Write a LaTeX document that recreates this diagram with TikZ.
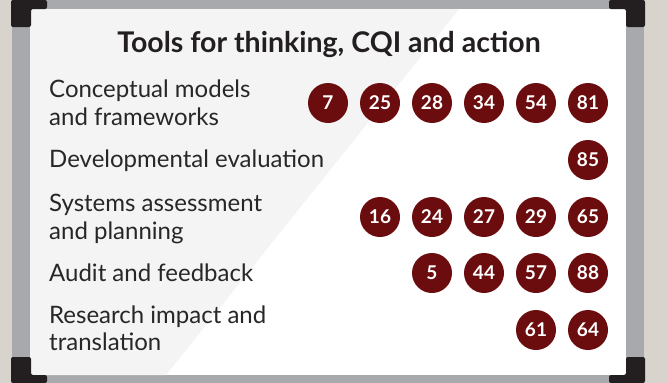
\documentclass[tikz,border=0pt]{standalone}
\usepackage{fontspec}
\setmainfont{Lato}
\definecolor{bgbeige}{RGB}{217,211,205}
\definecolor{framegray}{RGB}{167,169,172}
\definecolor{panelgray}{RGB}{244,244,244}
\definecolor{cornerblack}{RGB}{35,31,32}
\definecolor{dotred}{RGB}{107,13,15}
\definecolor{labeltext}{RGB}{40,38,38}
\begin{document}
\begin{tikzpicture}[x=1pt,y=-1pt,
  dot/.style={circle,fill=dotred,text=white,minimum size=40pt,inner sep=0pt,
    font=\fontsize{19}{19}\selectfont\bfseries},
  rowlabel/.style={anchor=base west,inner sep=0pt,align=left,text=labeltext,
    font=\fontsize{24}{27.5}\selectfont},
  titletext/.style={anchor=base,inner sep=0pt,text=cornerblack,
    font=\fontsize{28.5}{29}\selectfont\bfseries},
  cornerpiece/.style={fill=cornerblack,rounded corners=2pt}]
\useasboundingbox (0,0) rectangle (667,383);
\fill[bgbeige] (0,0) rectangle (667,383);
\fill[framegray] (12,0) rectangle (644,383);
\fill[white] (30,9) rectangle (626,375);
\fill[panelgray] (30,9) -- (459,9) -- (166,375) -- (30,375) -- cycle;
% corners
\fill[cornerpiece] (11,0) -- (47,0) -- (47,9) -- (31,9) -- (31,27) -- (11,27) -- cycle;
\fill[cornerpiece] (645,0) -- (609,0) -- (609,9) -- (626,9) -- (626,27) -- (645,27) -- cycle;
\fill[cornerpiece] (11,383) -- (47,383) -- (47,375) -- (31,375) -- (31,357) -- (11,357) -- cycle;
\fill[cornerpiece] (645,383) -- (609,383) -- (609,375) -- (626,375) -- (626,357) -- (645,357) -- cycle;
% title
\node[titletext] (title) at (329,52) {Tools for thinking, CQI and action};
% labels (base anchor = baseline of the last line)
\node[rowlabel] (l1) at (49,125) {Conceptual models\\and frameworks};
\node[rowlabel] (l2) at (49,167.3) {Developmental evaluation};
\node[rowlabel] (l3) at (49,239) {Systems assessment\\and planning};
\node[rowlabel] (l4) at (49,281.7) {Audit and feedback};
\node[rowlabel] (l5) at (49,350.7) {Research impact and\\translation};
% dots
\foreach \n [count=\i] in {7,25,28,34,54,81}
  \node[dot] (a\i) at ({328+52*(\i-1)},103) {\n};
\node[dot] (b1) at (588,160) {85};
\foreach \n [count=\i] in {16,24,27,29,65}
  \node[dot] (c\i) at ({380+52*(\i-1)},217) {\n};
\foreach \n [count=\i] in {5,44,57,88}
  \node[dot] (d\i) at ({432+52*(\i-1)},273) {\n};
\foreach \n [count=\i] in {61,64}
  \node[dot] (e\i) at ({536+52*(\i-1)},330) {\n};
\end{tikzpicture}
\end{document}
